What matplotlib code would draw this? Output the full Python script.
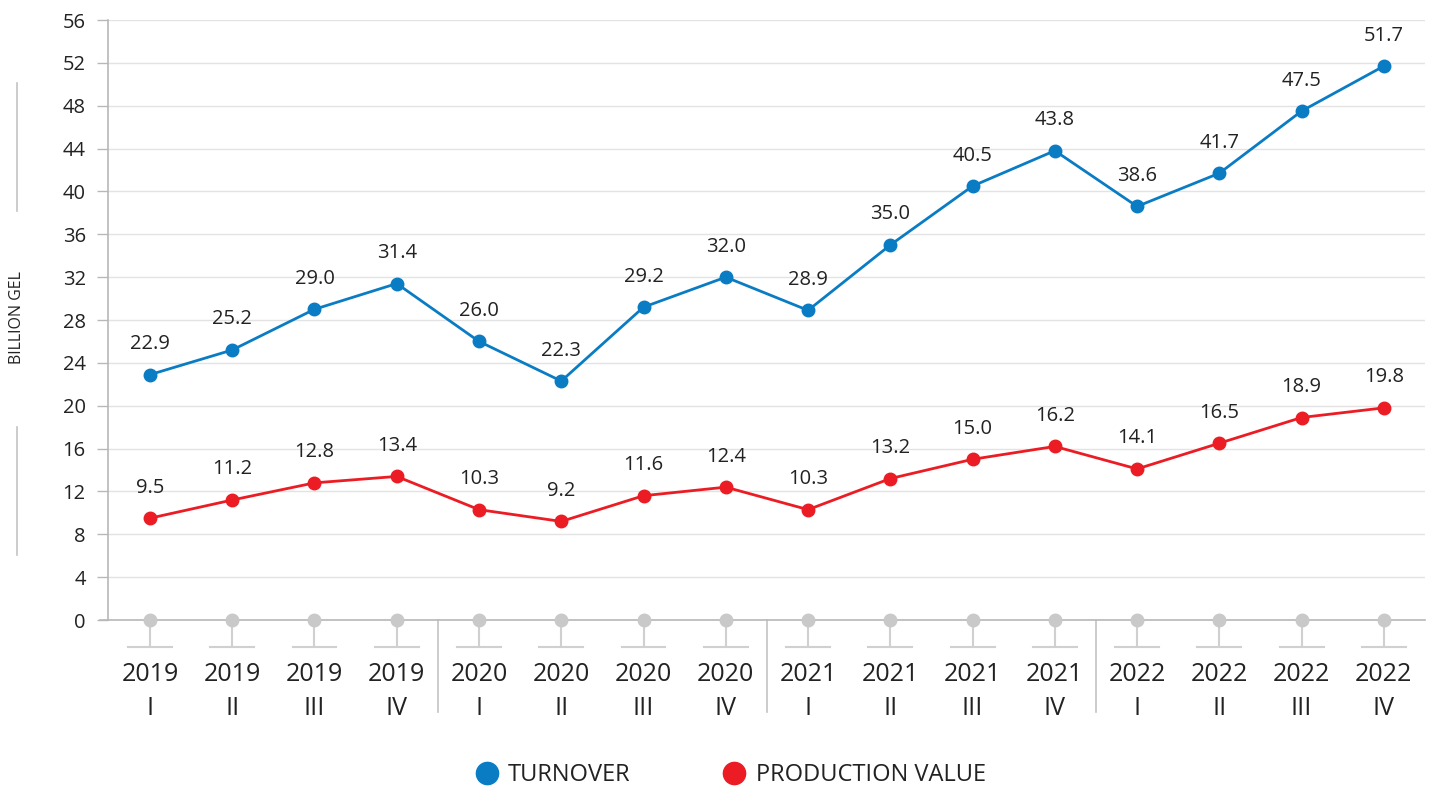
import matplotlib
matplotlib.use("Agg")
import matplotlib.pyplot as plt
from matplotlib.lines import Line2D
import numpy as np

years = ["2019"] * 4 + ["2020"] * 4 + ["2021"] * 4 + ["2022"] * 4
quarters = ["I", "II", "III", "IV"] * 4
turnover = [22.9, 25.2, 29.0, 31.4, 26.0, 22.3, 29.2, 32.0, 28.9, 35.0, 40.5, 43.8, 38.6, 41.7, 47.5, 51.7]
production = [9.5, 11.2, 12.8, 13.4, 10.3, 9.2, 11.6, 12.4, 10.3, 13.2, 15.0, 16.2, 14.1, 16.5, 18.9, 19.8]
yticks = list(range(0, 57, 4))

plt.rcParams["font.family"] = ["Open Sans", "DejaVu Sans"]

BLUE = "#0a7cc4"
RED = "#ec1c24"
TXT = "#222222"
GRID = "#e3e3e3"
AXC = "#b8b8b8"

fig = plt.figure(figsize=(14.30, 7.89), dpi=100)
ax = fig.add_axes([108 / 1430, 1 - 620 / 789, (1425 - 108) / 1430, 600 / 789])

x = np.arange(len(turnover))
ax.set_xlim(-0.51, 15.5)
ax.set_ylim(0, 56)

ax.set_yticks(yticks)
ax.set_yticklabels([str(v) for v in yticks], fontsize=14.5, color=TXT)
ax.tick_params(axis="y", length=8, width=1, color=AXC, pad=8)
ax.grid(axis="y", color=GRID, linewidth=1)
ax.set_axisbelow(True)

for s in ["top", "right"]:
    ax.spines[s].set_visible(False)
ax.spines["left"].set_color(AXC)
ax.spines["bottom"].set_color(AXC)
ax.spines["left"].set_linewidth(1.2)
ax.spines["bottom"].set_linewidth(1.2)

ax.set_xticks(x)
ax.set_xticklabels([f"{y}\n{q}" for y, q in zip(years, quarters)], fontsize=18,
                   color=TXT, linespacing=1.45)
ax.tick_params(axis="x", length=0, pad=30.5)

# lines
ax.plot(x, turnover, color=BLUE, lw=2, marker="o", markersize=9, zorder=4, clip_on=False)
ax.plot(x, production, color=RED, lw=2, marker="o", markersize=9, zorder=4, clip_on=False)

for xi, v in zip(x, turnover):
    ax.annotate(f"{v:.1f}", (xi, v), xytext=(0, 22), textcoords="offset points",
                ha="center", va="center", fontsize=14.5, color=TXT)
for xi, v in zip(x, production):
    ax.annotate(f"{v:.1f}", (xi, v), xytext=(0, 22), textcoords="offset points",
                ha="center", va="center", fontsize=14.5, color=TXT)

# decorative elements below axis
stem = 27 / (600 / 56)
for xi in x:
    ax.plot([xi, xi], [0, -stem], color="#d0d0d0", lw=1.5, clip_on=False, zorder=3)
    ax.plot([xi - 0.267, xi + 0.267], [-stem, -stem], color="#d0d0d0", lw=1.5, clip_on=False, zorder=3)
ax.plot(x, [0] * len(x), ls="none", marker="o", markersize=9, color="#c9c9c9",
        clip_on=False, zorder=5)
sep = 92 / (600 / 56)
for xs in [3.5, 7.5, 11.5]:
    ax.plot([xs, xs], [0, -sep], color="#c4c4c4", lw=1.2, clip_on=False)
ax.plot([-0.61, -0.51], [0, 0], color=AXC, lw=1.2, clip_on=False)

# y label with decorative lines
fig.text(17 / 1430, 1 - 318 / 789, "BILLION GEL", rotation=90, ha="center", va="center",
         fontsize=11.5, color=TXT)
fig.add_artist(Line2D([17 / 1430, 17 / 1430], [1 - 83 / 789, 1 - 211 / 789], color="#c4c4c4", lw=1.2))
fig.add_artist(Line2D([17 / 1430, 17 / 1430], [1 - 427 / 789, 1 - 555 / 789], color="#c4c4c4", lw=1.2))

handles = [Line2D([], [], ls="none", marker="o", markersize=16, color=BLUE, label="TURNOVER"),
           Line2D([], [], ls="none", marker="o", markersize=16, color=RED, label="PRODUCTION VALUE")]
leg = fig.legend(handles=handles, loc="center", bbox_to_anchor=(729 / 1430, 1 - 775 / 789), ncol=2,
                 frameon=False, fontsize=17, handletextpad=0.3, columnspacing=3.8,
                 handlelength=1.2)
for t in leg.get_texts():
    t.set_color(TXT)

fig.savefig("out.png", dpi=100, facecolor="white")
